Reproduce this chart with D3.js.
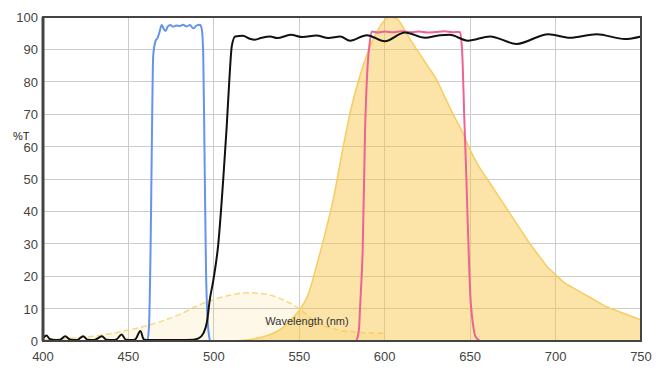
<!DOCTYPE html>
<html lang="en">
<head>
  <meta charset="UTF-8">
  <title>Spectra</title>
  <script src="https://cdn.jsdelivr.net/npm/d3@7"></script>
  <style>
    body { margin: 0; background: #fff; }
    text { font-family: Arial, "Liberation Sans", sans-serif; }
  </style>
</head>
<body>
  <svg id="chart"></svg>
  <script>
    // tick values
    const xTicks = [400, 450, 500, 550, 600, 650, 700, 750];
    const yTicks = [0, 10, 20, 30, 40, 50, 60, 70, 80, 90, 100];

    // excitation spectrum (dashed, light)
    const excitation = [[400,0.4],[410,0.6],[420,1.0],[430,1.5],[440,2.3],[450,3.4],[460,4.6],[470,6.2],
      [480,8.2],[490,10.8],[500,12.8],[510,14.2],[520,14.9],[530,14.5],[540,12.8],[550,10],[560,5.8],
      [570,3.8],[580,2.9],[590,2.5],[600,2.4]];

    // emission spectrum (filled)
    const emission = [[510,0],[520,0.4],[530,1.5],[540,4],[545,6.5],[550,9.5],[555,14],[560,23],[565,33],
      [570,44],[575,58],[580,71],[585,81],[590,89],[595,95],[600,99],[603,100],[607,99.5],[610,97.5],[615,93],
      [620,89],[625,85],[630,81],[635,75.5],[640,70],[645,65],[650,59],[655,54],[660,50],[665,46],
      [670,42],[675,38],[680,34],[685,30],[690,26.5],[695,23],[700,20.5],[705,18],[710,16.5],[715,15],
      [720,13.5],[725,12],[730,10.5],[735,9.5],[740,8.5],[745,7.5],[750,6.5]];

    // excitation filter (blue)
    const exFilter = [[400,0],[461,0],[462,4],[463,30],[463.8,65],[464.5,88],[466,92.8],[467,93.5],[468,95],
      [469.5,97.5],[470.5,96.5],[471.8,95.7],[473,97],[474.6,97.5],[476,97],[478,97.4],[480,97.2],[482,97.6],
      [484,97.1],[486,97.5],[488,96.5],[490,97.4],[492,97.6],[493,96],[493.8,88],[494.6,55],[495.4,22],
      [496.3,7],[497.2,1.5],[498,0],[750,0]];

    // dichroic (black)
    const dichroic = [[400,0.8],[402,1.7],[404,0.6],[407,0.3],[410,0.4],[413,1.5],[416,0.4],[420,0.3],
      [423.5,1.5],[426,0.4],[430,0.3],[434.5,1.5],[437,0.4],[441,0.3],[443,0.5],[446,2.0],[448.5,0.4],
      [452,0.3],[454,0.5],[457,3.1],[459,0.5],[462,0.3],[470,0.3],[480,0.3],[488,0.4],[491,0.8],[494,2.5],
      [496,6],[497.6,12.7],[499.7,18.8],[502.6,30],[505.5,50],[507.5,66],[509,80],[510.5,91],[512.5,94],
      [517,94.2],[521,93.3],[524,93],[528,93.6],[533,94],[537,93.5],[545,94.5],[552,93.8],[560,94.3],
      [567,93.5],[574,94],[579.7,92.7],[589.5,94.4],[600,92.5],[611.9,95.2],[623.6,93.6],[632.3,94.4],
      [638,94.5],[648.7,92.7],[661.6,94],[677.2,91.7],[695.8,94.7],[708.4,93.6],[724,94.7],[740.6,93.2],
      [750,94]];

    // emission filter (pink)
    const emFilter = [[400,0],[583,0],[584,1],[585,4],[585.5,9.6],[586.5,20],[587.1,28],[588.5,65],[590,85],
      [591,91],[592.4,95.5],[596,95.2],[600,95.5],[605,95.3],[610,95.6],[615,95.3],[620,95.5],[625,95.2],
      [630,95.4],[635,95.6],[640,95.3],[644,95.4],[645,92],[645.6,86],[646.5,70],[647.5,55],[648.5,38],
      [649.3,25],[650,15],[651,8],[652,4],[653,1.5],[655,0.3],[656,0],[750,0]];

    const W = 662, H = 374;
    const margin = { top: 17, right: 21, bottom: 33, left: 43 };

    const svg = d3.select('#chart').attr('width', W).attr('height', H);

    const x = d3.scaleLinear().domain([400, 750]).range([margin.left, W - margin.right]);
    const y = d3.scaleLinear().domain([0, 100]).range([H - margin.bottom, margin.top]);

    // grid
    const grid = svg.append('g');
    grid.selectAll('.vg').data(xTicks.slice(1, -1)).enter().append('line')
      .attr('x1', d => x(d)).attr('x2', d => x(d))
      .attr('y1', y(0)).attr('y2', y(100))
      .attr('stroke', '#cccccc').attr('stroke-width', 1).attr('shape-rendering', 'crispEdges');
    grid.selectAll('.hg').data(yTicks.slice(1, -1)).enter().append('line')
      .attr('x1', x(400)).attr('x2', x(750))
      .attr('y1', d => y(d)).attr('y2', d => y(d))
      .attr('stroke', '#cccccc').attr('stroke-width', 1).attr('shape-rendering', 'crispEdges');

    const area = d3.area().x(d => x(d[0])).y0(y(0)).y1(d => y(d[1])).curve(d3.curveMonotoneX);
    const line = d3.line().x(d => x(d[0])).y(d => y(d[1])).curve(d3.curveMonotoneX);

    // excitation spectrum
    svg.append('path').datum(excitation).attr('d', area)
      .attr('fill', '#f9c43e').attr('fill-opacity', 0.12);
    svg.append('path').datum(excitation).attr('d', line)
      .attr('fill', 'none').attr('stroke', '#f6cf6e').attr('stroke-opacity', 0.8)
      .attr('stroke-width', 1.5).attr('stroke-dasharray', '6,3');

    // emission spectrum
    svg.append('path').datum(emission).attr('d', area)
      .attr('fill', '#f9c43e').attr('fill-opacity', 0.45);
    svg.append('path').datum(emission).attr('d', line)
      .attr('fill', 'none').attr('stroke', '#f7cd62').attr('stroke-width', 1.5);

    // x axis title inside the plot
    svg.append('text').attr('x', 307).attr('y', 325)
      .attr('text-anchor', 'middle').attr('font-size', 11).attr('fill', '#333')
      .text('Wavelength (nm)');

    // filters
    svg.append('path').datum(exFilter).attr('d', line)
      .attr('fill', 'none').attr('stroke', '#6495ed').attr('stroke-width', 2);
    svg.append('path').datum(emFilter).attr('d', line)
      .attr('fill', 'none').attr('stroke', '#ee6393').attr('stroke-width', 2);
    svg.append('path').datum(dichroic).attr('d', line)
      .attr('fill', 'none').attr('stroke', '#111').attr('stroke-width', 2);

    // frame
    svg.append('rect')
      .attr('x', x(400)).attr('y', y(100))
      .attr('width', x(750) - x(400)).attr('height', y(0) - y(100))
      .attr('fill', 'none').attr('stroke', '#444').attr('stroke-width', 2);
    svg.append('line')
      .attr('x1', x(400)).attr('x2', x(400)).attr('y1', y(100)).attr('y2', y(0))
      .attr('stroke', '#444').attr('stroke-width', 3);

    // tick labels
    svg.selectAll('.yl').data(yTicks).enter().append('text')
      .attr('x', x(400) - 5).attr('y', d => y(d) + 5)
      .attr('text-anchor', 'end').attr('font-size', 13).attr('fill', '#444')
      .text(d => d);
    svg.selectAll('.xl').data(xTicks).enter().append('text')
      .attr('x', d => x(d)).attr('y', 361)
      .attr('text-anchor', 'middle').attr('font-size', 13).attr('fill', '#444')
      .text(d => d);

    svg.append('text').attr('x', 13).attr('y', 140)
      .attr('font-size', 11).attr('fill', '#222').text('%T');
  </script>
</body>
</html>
